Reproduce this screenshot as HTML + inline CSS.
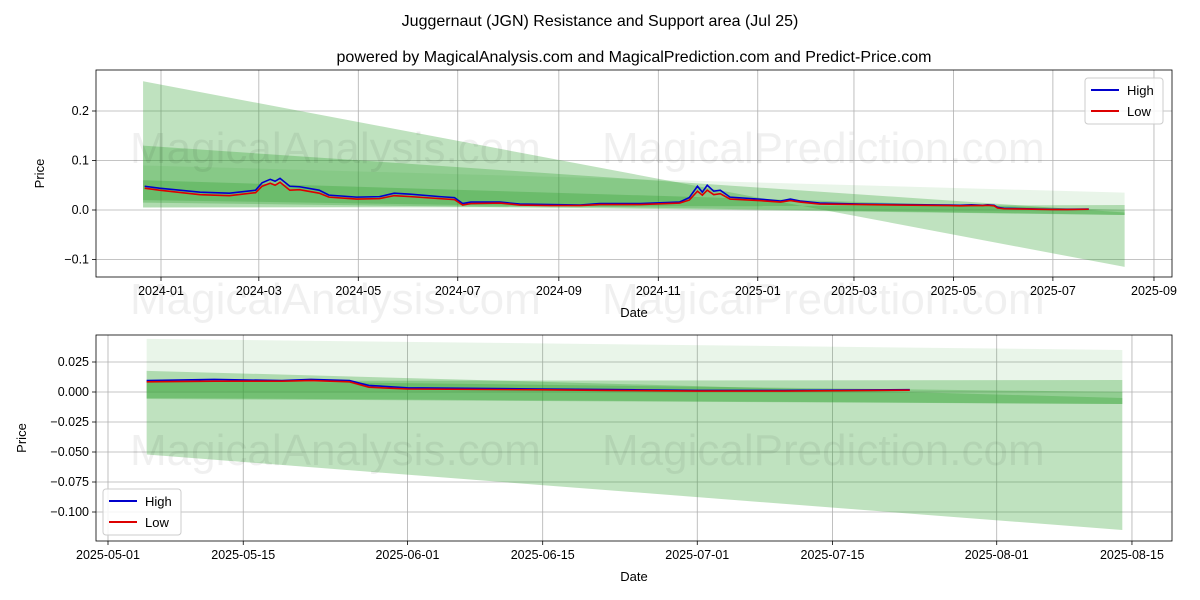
<!DOCTYPE html>
<html><head><meta charset="utf-8">
<style>
html,body{margin:0;padding:0;background:#fff;}
svg{display:block;font-family:"Liberation Sans","DejaVu Sans",sans-serif;}
</style></head>
<body>
<svg id="chart" width="1200" height="600" viewBox="0 0 1200 600" xmlns="http://www.w3.org/2000/svg">
<rect width="1200" height="600" fill="#fff"/>
<text x="600" y="26" text-anchor="middle" font-size="16" fill="#000">Juggernaut (JGN) Resistance and Support area (Jul 25)</text>
<text x="634" y="62" text-anchor="middle" font-size="16" fill="#000">powered by MagicalAnalysis.com and MagicalPrediction.com and Predict-Price.com</text>
</svg>
<script>
const dates = ["2023-12-22","2023-12-31","2024-01-25","2024-02-12","2024-02-28","2024-03-03","2024-03-08","2024-03-11","2024-03-14","2024-03-20","2024-03-26","2024-04-07","2024-04-13","2024-04-30","2024-05-14","2024-05-23","2024-06-02","2024-06-20","2024-06-29","2024-07-04","2024-07-09","2024-07-27","2024-08-08","2024-08-27","2024-09-14","2024-09-26","2024-10-21","2024-11-14","2024-11-20","2024-11-25","2024-11-28","2024-12-01","2024-12-05","2024-12-09","2024-12-15","2025-01-02","2025-01-15","2025-01-21","2025-01-27","2025-02-08","2025-03-05","2025-03-29","2025-04-29","2025-05-05","2025-05-12","2025-05-19","2025-05-22","2025-05-26","2025-05-28","2025-06-01","2025-06-15","2025-06-22","2025-07-01","2025-07-10","2025-07-23"];
const highValues = [0.048,0.044,0.036,0.034,0.040,0.055,0.062,0.058,0.064,0.048,0.047,0.040,0.030,0.026,0.027,0.034,0.032,0.027,0.025,0.013,0.016,0.016,0.012,0.011,0.010,0.013,0.013,0.016,0.025,0.048,0.036,0.050,0.038,0.040,0.026,0.022,0.018,0.022,0.018,0.014,0.012,0.011,0.010,0.0095,0.0105,0.0095,0.0105,0.0095,0.0055,0.0035,0.0025,0.002,0.0013,0.0013,0.0019];
const lowValues = [0.044,0.040,0.031,0.029,0.035,0.048,0.054,0.050,0.056,0.040,0.041,0.034,0.026,0.022,0.023,0.029,0.027,0.023,0.021,0.010,0.013,0.014,0.010,0.009,0.009,0.011,0.011,0.014,0.020,0.038,0.030,0.040,0.031,0.033,0.022,0.019,0.016,0.019,0.016,0.012,0.011,0.010,0.009,0.0085,0.009,0.009,0.0095,0.0085,0.004,0.0025,0.0018,0.0013,0.0008,0.0008,0.0015];
const bandStart = "2023-12-21";
const bandEnd = "2025-08-14";
const bandUpperStart = [0.26,0.09,0.13,0.06];
const bandUpperEnd = [-0.115,0.035,-0.005,0.0];
const bandLowerStart = [0.005,0.005,0.015,0.02];
const bandLowerEnd = [0.01,0.0,-0.01,-0.01];
const bandAlpha = [0.3,0.1,0.3,0.3];
const topYTicks = [0.2,0.1,0.0,-0.1];
const topXTicks = ["2024-01","2024-03","2024-05","2024-07","2024-09","2024-11","2025-01","2025-03","2025-05","2025-07","2025-09"];
const botYTicks = [0.025,0.0,-0.025,-0.05,-0.075,-0.1];
const botYLabels = ["0.025","0.000","−0.025","−0.050","−0.075","−0.100"];
const botXTicks = ["2025-05-01","2025-05-15","2025-06-01","2025-06-15","2025-07-01","2025-07-15","2025-08-01","2025-08-15"];
const botStart = "2025-05-05";

const NS="http://www.w3.org/2000/svg";
const svg=document.getElementById('chart');
function el(tag,attrs,parent){const e=document.createElementNS(NS,tag);for(const k in attrs)e.setAttribute(k,attrs[k]);(parent||svg).appendChild(e);return e;}
function day(s){const p=s.split('-');return Date.UTC(+p[0],+p[1]-1,p[2]?+p[2]:1)/86400000;}

function drawPanel(P){
  const g=el('g',{});
  
  
  const X=d=>P.x0+(d-day(P.xRef))*P.pxDay;
  const Y=v=>P.yZero-v*P.pxUnit;
  const clipId=P.name+'-clip';
  const cp=el('clipPath',{id:clipId},g);
  el('rect',{x:P.left,y:P.top,width:P.right-P.left,height:P.bottom-P.top},cp);
  P.yTicks.forEach((v,i)=>{
    const y=Y(v);
    const gl=el('line',{x1:P.left,x2:P.right,y1:y,y2:y,stroke:'#b0b0b0','stroke-width':0.8},g);
    
    
    el('line',{x1:P.left-4,x2:P.left,y1:y,y2:y,stroke:'#000','stroke-width':0.8},g);
    const t=el('text',{x:P.left-7,y:y+4,'text-anchor':'end','font-size':12.5},g);
    t.textContent=P.yLabels[i];
    
    
  });
  P.xTicks.forEach(d=>{
    const x=X(day(d));
    const gl=el('line',{x1:x,x2:x,y1:P.top,y2:P.bottom,stroke:'#b0b0b0','stroke-width':0.8},g);
    
    
    el('line',{x1:x,x2:x,y1:P.bottom,y2:P.bottom+4,stroke:'#000','stroke-width':0.8},g);
    const t=el('text',{x:x,y:P.bottom+18,'text-anchor':'middle','font-size':12.5},g);
    t.textContent=d;
    
    
  });
  const pg=el('g',{'clip-path':'url(#'+clipId+')'},g);
  const d0=day(bandStart), d1=day(bandEnd);
  const ds=Math.max(d0,day(P.from));
  const f=(ds-d0)/(d1-d0);
  const xs=X(ds), xe=X(d1);
  bandUpperStart.forEach((u,i)=>{
    const us=u+(bandUpperEnd[i]-u)*f;
    const ls=bandLowerStart[i]+(bandLowerEnd[i]-bandLowerStart[i])*f;
    const pts=[[xs,Y(us)],[xe,Y(bandUpperEnd[i])],[xe,Y(bandLowerEnd[i])],[xs,Y(ls)]];
    const b=el('polygon',{points:pts.map(p=>p.join(',')).join(' '),fill:'#2ca02c','fill-opacity':bandAlpha[i],'fill-rule':'nonzero'},pg);
    
    
  });
  P.marks.forEach(m=>{
    const t=el('text',{x:m[0],y:m[1],'font-size':44,fill:'#000','fill-opacity':0.06},g);
    t.textContent=m[2];
    
    
  });
  const idx=dates.map((d,i)=>i).filter(i=>day(dates[i])>=day(P.from));
  const hp=el('polyline',{points:idx.map(i=>X(day(dates[i]))+','+Y(highValues[i])).join(' '),fill:'none',stroke:'#0000cc','stroke-width':1.6},pg);
  
  
  const lp=el('polyline',{points:idx.map(i=>X(day(dates[i]))+','+Y(lowValues[i])).join(' '),fill:'none',stroke:'#dd0000','stroke-width':1.6},pg);
  
  
  el('rect',{x:P.left,y:P.top,width:P.right-P.left,height:P.bottom-P.top,fill:'none',stroke:'#000','stroke-width':0.8},g);
  const xl=el('text',{x:(P.left+P.right)/2,y:P.bottom+40,'text-anchor':'middle','font-size':13},g);
  xl.textContent='Date';
  
  
  const yl=el('text',{x:0,y:0,'text-anchor':'middle','font-size':13,transform:'translate('+P.yTitleX+','+((P.top+P.bottom)/2)+') rotate(-90)'},g);
  yl.textContent='Price';
  
  
  const L=P.legend;
  const lg=el('g',{},g);
  
  
  el('rect',{x:L[0],y:L[1],width:78,height:46,rx:3,fill:'#fff','fill-opacity':0.85,stroke:'#ccc'},lg);
  [['High','#0000cc'],['Low','#dd0000']].forEach((s,i)=>{
    const yy=L[1]+12+i*21;
    el('line',{x1:L[0]+6,x2:L[0]+34,y1:yy,y2:yy,stroke:s[1],'stroke-width':2},lg);
    const t=el('text',{x:L[0]+42,y:yy+5,'font-size':13},lg);
    t.textContent=s[0];
    
    
  });
}

drawPanel({name:'top-panel',left:96,right:1172,top:70,bottom:277,x0:161,xRef:'2024-01-01',pxDay:1.6305,yZero:210,pxUnit:495,
  yTicks:topYTicks,yLabels:["0.2","0.1","0.0","−0.1"],xTicks:topXTicks,from:'2023-01-01',yTitleX:44,legend:[1085,78],
  marks:[[130,163,'MagicalAnalysis.com'],[602,163,'MagicalPrediction.com'],[130,314,'MagicalAnalysis.com'],[602,314,'MagicalPrediction.com']]});
drawPanel({name:'bottom-panel',left:96,right:1172,top:335,bottom:541,x0:108,xRef:'2025-05-01',pxDay:9.66,yZero:392,pxUnit:1200,
  yTicks:botYTicks,yLabels:botYLabels,xTicks:botXTicks,from:botStart,yTitleX:26,legend:[103,489],
  marks:[[130,465,'MagicalAnalysis.com'],[602,465,'MagicalPrediction.com']]});
</script>
</body></html>
